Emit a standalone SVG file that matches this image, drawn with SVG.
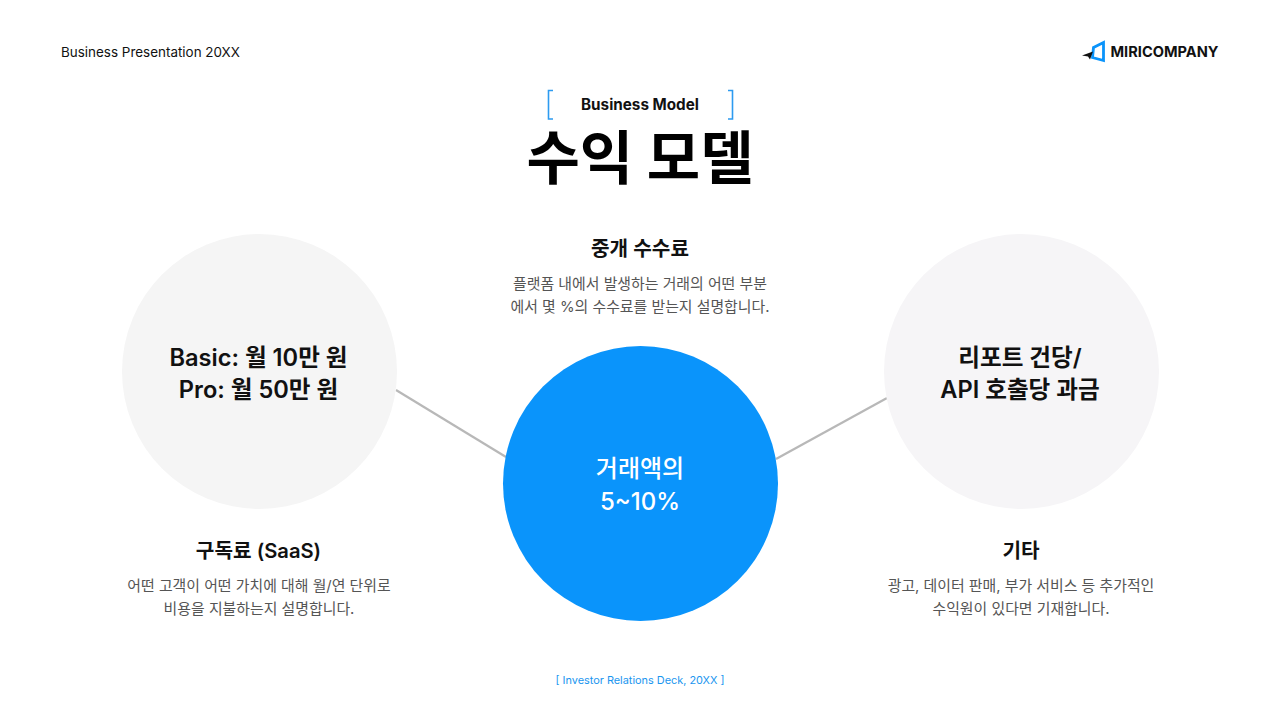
<svg xmlns="http://www.w3.org/2000/svg" width="1280" height="720" viewBox="0 0 1280 720">
<style>
text{font-family:"Inter","Noto Sans CJK KR","Noto Sans",sans-serif;text-anchor:middle}
.h{font-size:20.200px;font-weight:600;fill:#111}
.b{font-size:14.900px;font-weight:400;fill:#555}
.c{font-size:23.600px;font-weight:600;fill:#111}
.cw{font-size:24px;font-weight:500;fill:#fff}
.br{fill:none;stroke:#2d9bf0;stroke-width:1.6}
</style>
<rect width="1280" height="720" fill="#fff"/>
<g id="header">
<text x="61" y="57" font-size="13.450" style="text-anchor:start" fill="#111">Business Presentation 20XX</text>
</g>
<g id="logo">
<path d="M1093.500 47.500L1103.500 42.500V60.500L1092.500 57.500Z" fill="none" stroke="#0a94fb" stroke-width="2.800"/>
<path d="M1082 55.500L1093 51.500L1090 59.500L1088 56.500Z" fill="#111"/>
<text x="1110.500" y="57" font-size="14.600" font-weight="700" style="text-anchor:start" fill="#111">MIRICOMPANY</text>
</g>
<g id="title">
<path class="br" d="M553 90.500H548.500V119H553M728 90.500H732.500V119H728"/>
<text x="640" y="110" font-size="15.250" font-weight="700" fill="#111">Business Model</text>
<text x="640" y="179" font-size="58" font-weight="700" fill="#000">수익 모델</text>
</g>
<g id="connectors" stroke="#b8b8b8" stroke-width="2.200" fill="none">
<line x1="396" y1="390" x2="506" y2="457"/>
<line x1="776" y1="459" x2="887" y2="398"/>
</g>
<g id="node-left">
<circle cx="259.500" cy="371.500" r="137.500" fill="#f5f5f5"/>
<text class="c" x="258.500" y="366">Basic: 월 10만 원</text>
<text class="c" x="258.500" y="398">Pro: 월 50만 원</text>
</g>
<g id="node-right">
<circle cx="1021.500" cy="371.500" r="137.500" fill="#f6f5f7"/>
<text class="c" x="1020" y="366">리포트 건당/</text>
<text class="c" x="1020" y="398">API 호출당 과금</text>
</g>
<g id="node-center">
<circle cx="640.500" cy="483.500" r="137.500" fill="#0a94fb"/>
<text class="cw" x="640" y="477">거래액의</text>
<text class="cw" x="640" y="510">5~10%</text>
</g>
<g id="text-top">
<text class="h" x="640" y="256">중개 수수료</text>
<text class="b" x="640" y="289">플랫폼 내에서 발생하는 거래의 어떤 부분</text>
<text class="b" x="640" y="312">에서 몇 %의 수수료를 받는지 설명합니다.</text>
</g>
<g id="text-left">
<text class="h" x="258.500" y="558">구독료 (SaaS)</text>
<text class="b" x="259" y="591">어떤 고객이 어떤 가치에 대해 월/연 단위로</text>
<text class="b" x="259" y="614">비용을 지불하는지 설명합니다.</text>
</g>
<g id="text-right">
<text class="h" x="1021" y="558">기타</text>
<text class="b" x="1021" y="591">광고, 데이터 판매, 부가 서비스 등 추가적인</text>
<text class="b" x="1021" y="614">수익원이 있다면 기재합니다.</text>
</g>
<g id="footer">
<text x="640" y="684" font-size="10.900" fill="#1a96ef">[ Investor Relations Deck, 20XX ]</text>
</g>
</svg>
